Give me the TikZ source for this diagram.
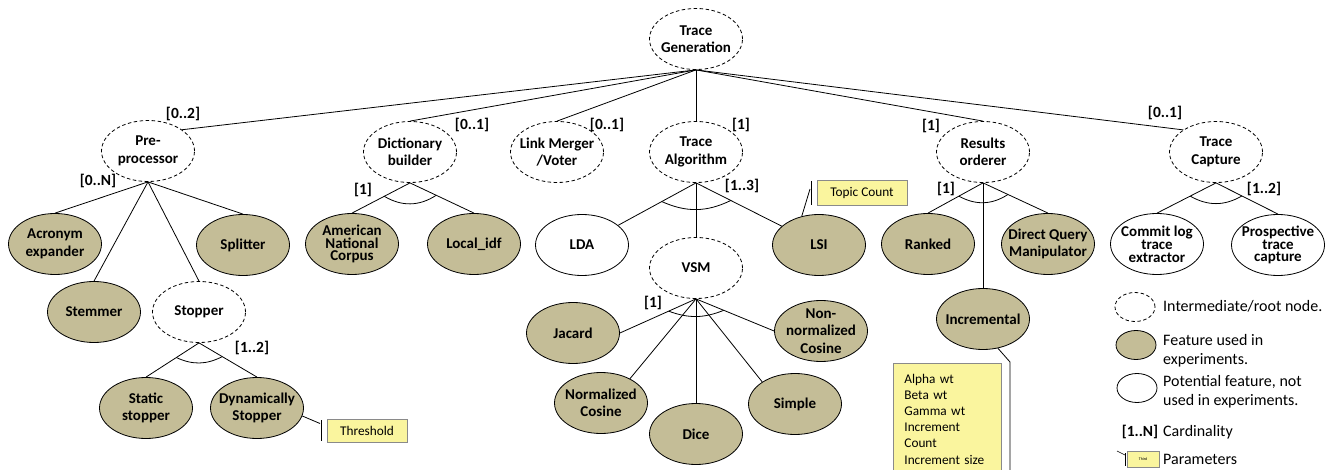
\documentclass[tikz,border=0pt]{standalone}
\usepackage{fontspec}
\setmainfont{Carlito}
\usetikzlibrary{shapes.geometric,calc}
\definecolor{tanfill}{HTML}{C4BD97}
\definecolor{noteyellow}{HTML}{FAF59E}
\definecolor{notegray}{HTML}{8A8A8A}
\begin{document}
\begin{tikzpicture}[x=1pt,y=-1pt,
  every node/.style={inner sep=0pt},
  fn/.style={ellipse, draw, line width=0.8pt, minimum width=93pt, minimum height=61pt, inner sep=-14pt, align=center, font=\fontsize{15}{17.5}\selectfont\bfseries},
  inter/.style={fn, dash pattern=on 3.5pt off 2.5pt},
  feat/.style={fn, fill=tanfill},
  pot/.style={fn, fill=white},
  tight/.style={font=\fontsize{15}{12.8}\selectfont\bfseries},
  card/.style={font=\fontsize{15.5}{18}\selectfont\bfseries},
  conn/.style={line width=0.8pt},
  note/.style={draw=notegray, fill=noteyellow, line width=0.8pt, font=\fontsize{13.3}{16.2}\selectfont},
  legell/.style={ellipse, draw, line width=0.8pt, minimum width=40pt, minimum height=29pt},
  legtxt/.style={anchor=west, align=left, font=\fontsize{16}{19.3}\selectfont}
]
\useasboundingbox (0,0) rectangle (1335,470);

% intermediate nodes
\node[inter] (root) at (696,39) {Trace\\Generation};
\node[inter] (pre) at (148,151) {Pre-\\processor};
\node[inter] (dict) at (410,152) {Dictionary\\builder};
\node[inter] (link) at (557,152) {Link Merger\\/Voter};
\node[inter] (ta) at (696,152) {Trace\\Algorithm};
\node[inter] (ro) at (983,152) {Results\\orderer};
\node[inter] (tc) at (1216,152) {Trace\\Capture};

% leaves
\node[feat] (acr) at (55,244) {Acronym\\expander};
\node[feat] (spl) at (243,245) {Splitter};
\node[feat] (stem) at (94,312) {Stemmer};
\node[inter] (stop) at (199,312) {Stopper};
\node[feat] (sst) at (146,408) {Static\\stopper};
\node[feat] (dst) at (257,408) {Dynamically\\Stopper};
\node[feat,tight] (anc) at (352,244) {American\\National\\Corpus};
\node[feat] (lidf) at (474,244) {Local\_idf};
\node[pot] (lda) at (582,245) {LDA};
\node[inter] (vsm) at (696,268) {VSM};
\node[feat] (lsi) at (819,245) {LSI};
\node[feat] (jac) at (573,333) {Jacard};
\node[feat] (nnc) at (821,331) {Non-\\normalized\\Cosine};
\node[feat] (nc) at (601,403) {Normalized\\Cosine};
\node[feat] (dice) at (696,434) {Dice};
\node[feat] (simp) at (795,404) {Simple};
\node[feat] (rank) at (928,244) {Ranked};
\node[feat] (dqm) at (1048,244) {Direct Query\\Manipulator};
\node[feat] (inc) at (983,319) {Incremental};
\node[pot,tight] (cl) at (1157,244) {Commit log\\trace\\extractor};
\node[pot,tight] (pc) at (1278,245) {Prospective\\trace\\capture};

% root connectors
\draw[conn] (root.south) -- (pre.32);
\draw[conn] (root.south) -- (dict.north);
\draw[conn] (root.south) -- (link.north);
\draw[conn] (root.south) -- (ta.north);
\draw[conn] (root.south) -- (ro.north);
\draw[conn] (root.south) -- (tc.146);

% pre-processor
\draw[conn] (pre.south) -- (acr.north);
\draw[conn] (pre.south) -- (spl.north);
\draw[conn] (pre.south) -- (stem.north);
\draw[conn] (pre.south) -- (stop.north);
% stopper
\draw[conn] (stop.south) -- (sst.north);
\draw[conn] (stop.south) -- (dst.north);
\draw[conn] ($(stop.south)!27pt!(sst.north)$) to[bend right=26] ($(stop.south)!27pt!(dst.north)$);
% dictionary
\draw[conn] (dict.south) -- (anc.north);
\draw[conn] (dict.south) -- (lidf.north);
\draw[conn] ($(dict.south)!29pt!(anc.north)$) to[bend right=32] ($(dict.south)!29pt!(lidf.north)$);
% trace algorithm
\draw[conn] (ta.south) -- (lda);
\draw[conn] (ta.south) -- (vsm.north);
\draw[conn] (ta.south) -- (lsi);
\draw[conn] ($(ta.south)!39pt!(lda.center)$) to[bend right=25] ($(ta.south)!39pt!(lsi.center)$);
% vsm
\draw[conn] (vsm.south) -- (jac.east);
\draw[conn] (vsm.south) -- (nnc.west);
\draw[conn] (vsm.south) -- (nc.40);
\draw[conn] (vsm.south) -- (dice.north);
\draw[conn] (vsm.south) -- (simp.146);
\draw[conn] ($(vsm.south)!30pt!(jac.east)$) to[bend right=21] ($(vsm.south)!30pt!(nnc.west)$);
% results orderer
\draw[conn] (ro.south) -- (rank.north);
\draw[conn] (ro.south) -- (dqm.north);
\draw[conn] (ro.south) -- (inc.north);
\draw[conn] ($(ro.south)!27.5pt!(rank.north)$) to[bend right=31] ($(ro.south)!27.5pt!(dqm.north)$);
% trace capture
\draw[conn] (tc.south) -- (cl.north);
\draw[conn] (tc.south) -- (pc.north);
\draw[conn] ($(tc.south)!29pt!(cl.north)$) to[bend right=30] ($(tc.south)!29pt!(pc.north)$);

% cardinalities
\node[card] (k1) at (183,114) {[0..2]};
\node[card] (k2) at (98,181) {[0..N]};
\node[card] (k3) at (472,125) {[0..1]};
\node[card] (k4) at (363,190) {[1]};
\node[card] (k5) at (607,125) {[0..1]};
\node[card] (k6) at (741,125) {[1]};
\node[card] (k7) at (742,186) {[1..3]};
\node[card] (k8) at (931,126) {[1]};
\node[card] (k9) at (946,189) {[1]};
\node[card] (k10) at (1165,113) {[0..1]};
\node[card] (k11) at (1264,189) {[1..2]};
\node[card] (k12) at (252,348) {[1..2]};
\node[card] (k13) at (653,303) {[1]};

% parameter callouts
\node[note, minimum width=80pt, minimum height=23pt] (thr) at (367,430.5) {Threshold};
\coordinate (thA) at (321,420);
\coordinate (thB) at (321,441);
\coordinate (thP) at (320,423.5);
\draw[conn] (dst.-10) -- (thP);
\draw[conn] (thA) -- (thB);

\node[note, minimum width=90pt, minimum height=25pt] (tcnt) at (862,192.5) {Topic Count};
\coordinate (tcA) at (811,181);
\coordinate (tcB) at (811,205);
\coordinate (tcP) at (810,189);
\draw[conn] (lsi.121) -- (tcP);
\draw[conn] (tcA) -- (tcB);

\node[note, anchor=north west, align=left, text width=86pt, inner xsep=11pt, inner ysep=10.5pt, text depth=115pt] (incp) at (893,363) {Alpha wt\\Beta wt\\Gamma wt\\Increment\\Count\\Increment size};
\coordinate (icP) at (1010,362);
\coordinate (icB) at (1010,490);
\draw[conn] (inc.-63) -- (icP) -- (icB);

% legend
\node[legell, dash pattern=on 3.5pt off 2.5pt] (lg1) at (1135,307) {};
\node[legtxt] (lt1) at (1163,306) {Intermediate/root node.};
\node[legell, fill=tanfill] (lg2) at (1136,345) {};
\node[legtxt] (lt2) at (1163,350.5) {Feature used in\\experiments.};
\node[legell, fill=white] (lg3) at (1137,388) {};
\node[legtxt] (lt3) at (1163,392) {Potential feature, not\\used in experiments.};
\node[card] (lg4) at (1140,432) {[1..N]};
\node[legtxt] (lt4) at (1163,432) {Cardinality};
\node[note, minimum width=32pt, minimum height=16pt, line width=0.6pt, font=\fontsize{4}{5}\selectfont] (lg5) at (1143,459) {Third};
\coordinate (lpA) at (1125,453);
\coordinate (lpB) at (1125,466);
\coordinate (lpC) at (1117,451);
\coordinate (lpD) at (1125,455);
\draw[line width=0.6pt] (lpC) -- (lpD);
\draw[line width=0.6pt] (lpA) -- (lpB);
\node[legtxt] (lt5) at (1163,459) {Parameters};
\end{tikzpicture}
\end{document}
